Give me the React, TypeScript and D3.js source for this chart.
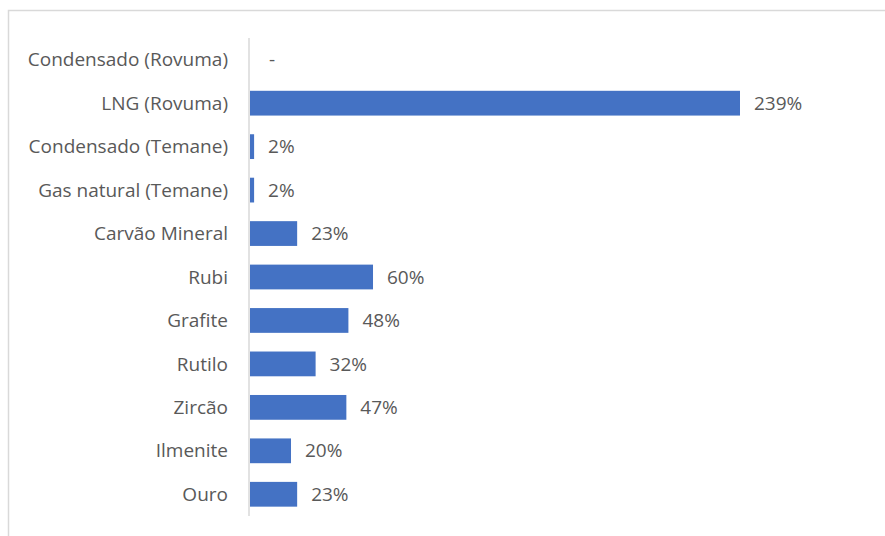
import React from "react";
import * as d3 from "d3";

const categories = [
  "Condensado (Rovuma)",
  "LNG (Rovuma)",
  "Condensado (Temane)",
  "Gas natural (Temane)",
  "Carvão Mineral",
  "Rubi",
  "Grafite",
  "Rutilo",
  "Zircão",
  "Ilmenite",
  "Ouro",
];
const values: (number | null)[] = [null, 239, 2, 2, 23, 60, 48, 32, 47, 20, 23];
const valueLabels = ["-", "239%", "2%", "2%", "23%", "60%", "48%", "32%", "47%", "20%", "23%"];

const W = 885;
const H = 536;
const FONT = "'Open Sans', sans-serif";

export default function App() {
  const x = d3.scaleLinear().domain([0, 239]).range([250, 740]);
  const y = d3.scaleBand<string>().domain(categories).range([38, 516]).paddingInner(0.43).paddingOuter(0.215);
  const axisX = 249;
  return (
    <svg width={W} height={H} style={{ position: "absolute", left: 0, top: 0 }} xmlns="http://www.w3.org/2000/svg">
      <rect x={0} y={0} width={W} height={H} fill="#ffffff" />
      <path d={`M8.5,${H} V10.5 H${W}`} fill="none" stroke="#d9d9d9" strokeWidth={1.5} />
      {categories.map((c, i) => {
        const v = values[i];
        const yc = (y(c) ?? 0) + y.bandwidth() / 2;
        const end = x(v ?? 0);
        return (
          <g key={c}>
            {v !== null && (
              <rect x={x(0)} y={y(c)} width={end - x(0)} height={y.bandwidth()} fill="#4472C4" />
            )}
            <text x={228} y={yc} dy="0.35em" textAnchor="end" fontFamily={FONT} fontSize={19} fill="#595959">
              {c}
            </text>
            <text x={end + (v === null ? 19 : 14)} y={yc} dy="0.35em" fontFamily={FONT} fontSize={19} fill="#595959">
              {valueLabels[i]}
            </text>
          </g>
        );
      })}
      <line x1={axisX} x2={axisX} y1={38} y2={516} stroke="#d9d9d9" strokeWidth={1.5} />
    </svg>
  );
}
